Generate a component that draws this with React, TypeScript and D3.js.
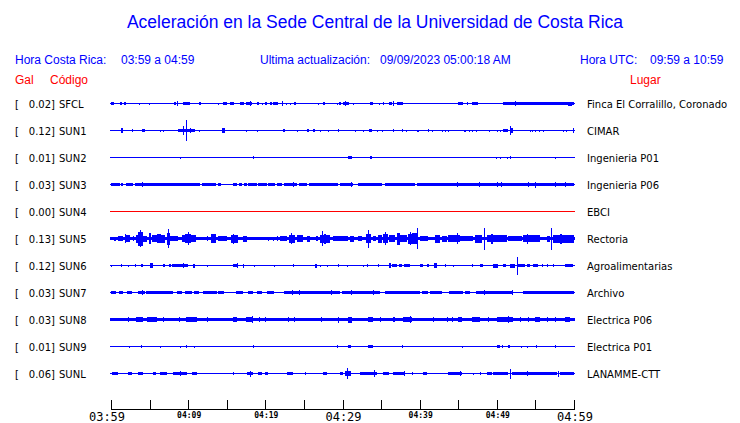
import React from 'react';
import * as d3 from 'd3';

const codes = ['SFCL', 'SUN1', 'SUN2', 'SUN3', 'SUN4', 'SUN5', 'SUN6', 'SUN7', 'SUN8', 'SUN9', 'SUNL'];
const galValues = ['0.02', '0.12', '0.01', '0.03', '0.00', '0.13', '0.12', '0.03', '0.03', '0.01', '0.06'];
const places = ['Finca El Corralillo, Coronado', 'CIMAR', 'Ingenieria P01', 'Ingenieria P06', 'EBCI', 'Rectoria', 'Agroalimentarias', 'Archivo', 'Electrica P06', 'Electrica P01', 'LANAMME-CTT'];
// background noise amplitude of each trace (relative units)
const noiseLevels = [0.7, 0.65, 0.5, 0.6, 0.5, 1.7, 0.6, 0.7, 1.8, 0.5, 0.7];

// bursts: [start minute, end minute, amplitude] (minutes after 03:59)
const evSFCL = [[0,0.4,1.5],[1.2,1.4,1.3],[1.7,1.9,1.3],[3.6,3.75,1.0],[4.9,5.05,1.0],[7.4,7.55,0.9],[8.2,8.4,1.3],[8.55,8.7,2.3],[9.3,10.2,1.5],[11.4,11.7,1.3],[13.9,14.05,1.0],[14.5,15.0,1.3],[15.4,15.9,1.5],[16.7,17.2,1.5],[17.5,18.3,1.6],[18.0,18.15,2.5],[18.9,19.2,1.3],[19.6,19.7,1.0],[20.0,20.2,1.2],[20.6,20.9,1.3],[21.0,21.6,1.5],[22.15,22.3,2.3],[22.7,22.8,1.0],[23.2,23.3,1.0],[23.7,24.0,1.3],[26.8,26.95,1.0],[27.5,27.7,1.2],[29.3,29.4,1.0],[29.5,29.8,1.2],[30.1,30.8,1.6],[30.3,30.45,2.5],[31.4,31.5,1.0],[33.6,33.9,1.4],[34.7,34.85,1.0],[35.2,35.35,1.3],[36.0,36.4,1.4],[36.55,36.7,2.2],[37.1,37.8,1.5],[39.9,40.05,0.9],[42.0,42.15,0.9],[45.0,45.6,1.5],[46.1,46.25,1.2],[46.8,47.5,1.5],[50.8,60,1.6],[52.35,52.5,2.6],[59.2,59.7,2.0]];
const evSUN1 = [[1.3,1.6,2.5],[2.7,2.85,1.2],[4.0,4.4,1.5],[6.3,6.45,1.0],[6.7,6.85,1.0],[8.7,10.9,1.7],[9.35,9.5,4.3],[9.75,9.9,10.8],[10.2,10.35,2.5],[11.4,11.55,1.0],[14.4,14.8,2.2],[17.5,17.65,1.0],[18.9,19.05,1.0],[22.3,22.6,1.5],[24.1,24.25,1.0],[25.4,25.7,1.3],[26.2,26.45,1.5],[27.1,27.25,1.0],[28.1,28.25,1.0],[29.4,29.55,1.3],[31.6,31.75,1.0],[32.7,32.85,1.0],[33.4,33.8,1.5],[34.5,34.65,1.0],[35.1,35.25,1.0],[36.5,36.65,1.3],[37.7,37.85,1.3],[38.2,38.35,1.0],[39.7,39.85,1.0],[41.1,41.25,1.3],[41.6,41.75,1.0],[42.9,43.05,1.0],[43.3,43.45,1.0],[43.7,43.85,1.0],[45.8,45.95,1.0],[46.4,46.55,1.0],[46.8,46.95,1.0],[47.3,47.45,1.0],[49.0,49.15,1.0],[50.0,50.15,1.0],[50.4,50.55,1.0],[50.8,51.4,1.8],[51.65,51.8,4.7],[51.9,52.1,2.5],[54.3,54.45,1.0],[54.6,54.75,1.0],[54.9,55.05,1.0],[55.5,55.65,1.0],[56.0,56.15,1.0],[58.6,58.75,1.0],[58.9,59.05,1.0],[59.85,60,2.8]];
const evSUN2 = [[8.9,9.05,1.0],[18.4,18.55,1.5],[30.7,31.2,1.3],[33.5,33.8,1.3],[49.9,50.05,1.0],[50.4,50.55,1.0],[51.3,51.45,1.0],[51.7,51.85,1.2],[57.5,57.65,1.0]];
const evSUN3 = [[0,1.2,1.6],[1.3,1.6,1.6],[1.9,2.9,1.6],[3.1,8.5,1.6],[8.6,11.5,1.6],[11.8,13.6,1.6],[13.9,14.2,1.6],[15.8,16.3,1.6],[16.6,17.0,1.6],[17.2,17.6,1.6],[17.8,18.9,1.6],[19.1,20.2,1.6],[20.4,21.3,1.6],[21.5,22.2,1.6],[22.4,24.1,1.6],[24.3,25.4,1.6],[25.6,29.4,1.6],[29.7,31.4,1.6],[32.0,35.1,1.6],[35.5,39.4,1.6],[39.7,60,1.8],[4.0,4.15,2.5],[23.6,23.75,2.8],[31.05,31.2,2.6],[44.8,44.95,2.2],[47.7,47.85,2.2],[50.0,50.15,2.5],[50.5,50.65,2.5],[54.0,54.15,2.3],[54.9,55.05,3.0],[57.5,57.65,2.3],[58.8,58.95,2.3]];
const evSUN4: number[][] = [];
const evSUN5 = [[0.4,0.65,2.0],[0.9,1.55,2.2],[1.8,2.45,3.5],[1.85,2.0,4.5],[2.85,3.0,2.5],[3.2,3.5,4.0],[3.5,4.15,7.0],[3.75,3.9,8.7],[4.15,4.65,3.0],[4.9,5.2,5.5],[5.3,5.95,3.5],[5.95,6.5,4.5],[6.5,7.0,4.0],[7.25,7.65,6.0],[7.35,7.45,9.3],[7.65,8.7,2.5],[9.2,11.0,3.5],[9.6,10.4,4.5],[9.95,10.1,6.5],[12.4,12.55,2.2],[13.0,13.6,4.5],[13.9,15.0,2.5],[15.55,16.45,4.0],[15.8,16.0,5.0],[17.1,17.6,3.0],[20.35,20.5,2.0],[21.0,21.15,2.0],[21.5,21.65,2.2],[21.9,22.8,2.5],[23.1,23.85,4.0],[23.3,23.5,5.5],[24.1,24.9,3.5],[25.4,25.8,3.0],[26.6,26.8,2.5],[27.1,28.4,4.0],[27.3,27.45,7.5],[27.6,27.9,5.0],[28.8,29.7,2.5],[29.7,30.7,2.5],[31.0,31.5,3.0],[32.0,32.5,2.5],[33.05,33.7,4.5],[33.3,33.45,9.0],[33.95,34.35,2.5],[34.6,35.1,4.0],[35.25,35.9,4.5],[35.5,35.65,6.5],[36.0,36.8,3.5],[37.05,37.45,6.0],[37.45,38.35,3.5],[38.5,39.0,5.0],[38.7,38.85,6.5],[39.0,39.8,5.5],[39.6,39.75,10.5],[40.0,41.1,2.5],[42.0,42.6,4.0],[42.9,43.55,3.0],[43.65,45.25,3.5],[44.8,44.95,5.5],[45.25,46.9,2.5],[47.15,48.1,4.0],[48.3,48.45,11.0],[48.7,51.3,3.5],[49.3,49.5,5.0],[51.45,53.25,2.5],[53.4,55.6,3.5],[53.9,54.05,5.0],[56.5,56.9,3.0],[57.0,57.15,11.0],[57.3,60,4.0],[58.2,58.4,5.0]];
const evSUN6 = [[0,0.15,1.0],[1.3,1.45,1.2],[2.2,2.35,1.0],[3.1,3.25,1.3],[3.9,4.15,1.5],[5.05,5.45,2.5],[6.75,7.0,1.2],[7.5,7.8,1.3],[7.9,10.0,1.7],[9.3,9.45,2.5],[10.6,10.9,2.0],[12.4,12.55,1.0],[15.8,16.45,1.8],[16.3,16.45,2.5],[17.1,17.25,2.0],[18.5,18.65,1.0],[21.1,21.25,1.0],[23.6,23.75,1.3],[26.4,26.7,2.0],[27.1,27.25,1.0],[28.0,28.15,1.0],[29.4,29.55,1.3],[30.6,30.75,1.0],[32.65,32.8,1.0],[33.2,33.35,1.3],[34.6,34.75,1.3],[36.0,36.3,2.7],[36.4,37.05,1.7],[37.3,37.7,1.5],[37.95,38.75,1.5],[40.0,40.45,1.5],[40.9,41.2,1.3],[41.85,42.25,2.3],[43.3,43.45,1.2],[44.3,44.45,1.0],[46.8,46.95,1.2],[47.8,48.2,1.7],[49.5,50.15,2.0],[50.8,51.2,1.5],[51.7,52.35,2.0],[52.6,52.75,9.0],[52.75,53.65,1.7],[53.9,54.3,1.3],[54.7,55.35,1.7],[55.85,56.0,1.3],[56.5,56.65,1.2],[57.3,57.45,1.2],[58.8,59.9,1.3]];
const evSUN7 = [[0,0.65,1.3],[1.05,1.55,1.5],[2.05,2.7,1.5],[3.5,4.4,1.7],[4.0,4.15,2.5],[4.55,8.05,1.6],[8.55,9.2,1.8],[9.6,10.5,1.3],[10.75,11.4,1.5],[11.9,13.75,1.3],[13.85,14.65,1.5],[16.2,17.1,1.8],[17.75,18.4,1.3],[18.9,19.55,1.6],[20.2,21.1,1.8],[22.4,29.7,1.6],[23.45,23.6,2.3],[24.35,24.5,2.3],[28.5,28.65,2.3],[29.95,34.85,1.5],[31.1,31.25,2.3],[33.95,34.1,2.3],[35.5,40.05,1.5],[40.3,41.1,1.4],[41.35,42.9,1.5],[43.8,45.6,1.5],[45.9,46.5,1.3],[47.3,52.1,1.6],[48.3,48.45,2.2],[51.95,52.1,2.2],[53.4,60,1.6]];
const evSUN8 = [[2.2,2.35,2.5],[3.25,4.15,2.5],[4.65,5.95,2.5],[6.75,6.9,2.3],[8.8,8.95,2.3],[9.7,11.15,2.5],[12.4,12.55,2.3],[15.8,16.35,2.7],[17.5,18.4,2.8],[18.25,18.4,3.2],[19.2,19.35,2.3],[19.95,20.1,2.3],[22.9,23.05,2.2],[23.7,23.85,2.2],[27.2,27.35,2.5],[29.4,29.55,3.0],[30.7,31.25,3.0],[33.3,33.95,2.8],[34.85,35.0,2.3],[36.55,36.8,2.7],[37.85,39.0,2.8],[38.75,38.9,3.2],[41.75,41.9,2.7],[43.55,43.7,2.3],[44.2,44.35,2.5],[44.95,45.5,2.8],[46.8,47.8,2.5],[48.85,49.0,2.3],[50.0,52.1,2.8],[51.45,51.6,3.2],[53.0,53.15,2.3],[54.05,54.2,2.5],[55.0,55.6,2.8],[56.5,56.65,2.5],[57.5,57.65,2.5],[58.8,59.5,2.6]];
const evSUN9 = [[2.3,2.45,1.0],[3.9,4.05,1.3],[6.35,6.5,1.0],[8.9,9.05,1.0],[9.7,9.85,1.3],[10.75,10.9,1.0],[18.4,18.55,1.8],[29.3,29.45,1.3],[30.7,31.1,1.5],[33.3,33.95,1.5],[37.7,37.85,1.2],[43.55,43.7,0.8],[45.5,45.65,1.0],[50.0,50.4,1.5],[50.65,50.8,1.2],[51.45,51.7,1.5],[53.1,53.25,1.0],[53.9,54.05,1.0],[55.05,55.2,1.3],[55.7,55.85,0.8],[57.5,57.65,1.5]];
const evSUNL = [[0.1,0.9,1.3],[2.2,2.7,1.3],[3.5,4.15,1.3],[5.45,5.85,1.3],[6.35,7.25,1.3],[8.05,9.85,1.5],[8.9,9.05,2.8],[10.5,11.15,1.5],[15.8,15.95,1.2],[17.6,18.4,1.5],[18.0,18.15,3.0],[19.05,19.55,1.3],[19.95,20.35,1.3],[22.8,23.6,1.3],[25.1,25.25,1.2],[27.5,28.0,1.3],[29.7,30.1,1.3],[30.3,31.1,2.5],[30.55,30.7,5.5],[32.25,34.45,1.6],[34.05,34.2,3.5],[35.25,36.0,1.3],[36.55,38.1,1.5],[37.95,38.1,2.2],[39.0,39.15,1.2],[40.45,40.95,1.2],[43.65,45.5,1.5],[45.2,45.35,2.2],[46.95,47.1,1.0],[47.8,47.95,1.2],[48.7,49.35,1.3],[49.5,51.45,1.8],[51.7,51.85,5.0],[51.95,53.9,1.8],[53.9,54.05,2.8],[54.05,57.8,1.6],[57.9,58.05,3.0],[58.2,60,1.6]];

const events = [evSFCL, evSUN1, evSUN2, evSUN3, evSUN4, evSUN5, evSUN6, evSUN7, evSUN8, evSUN9, evSUNL];

const tickMinutes = [0, 5, 10, 15, 20, 25, 30, 35, 40, 45, 50, 55, 60];
const majorLabels: [number, string][] = [[0, '03:59'], [30, '04:29'], [60, '04:59']];
const minorLabels: [number, string][] = [[10, '04:09'], [20, '04:19'], [40, '04:39'], [50, '04:49']];

const title = 'Aceleración en la Sede Central de la Universidad de Costa Rica';
const horaCR = '03:59 a 04:59';
const actualizacion = '09/09/2023 05:00:18 AM';
const horaUTC = '09:59 a 10:59';

const W = 740, H = 423;
const BLUE = '#0000ff';
const RED = '#ff0000';

export default function App() {
  const x = d3.scaleLinear().domain([0, 60]).range([111, 574]);
  const row = d3.scalePoint<string>().domain(codes).range([103.5, 373.5]);
  const amp = d3.scaleLinear().domain([0, 10]).range([0, 10]);

  const tracePath = (i: number) => {
    const p = d3.path();
    const yc = row(codes[i])!;
    const b = amp(noiseLevels[i]);
    p.rect(x(0) - 1, yc - b, x(60) - x(0) + 2, 2 * b);
    for (const [t0, t1, a] of events[i]) {
      const x0 = x(t0);
      const w = Math.max(1, x(t1) - x0);
      const h = amp(a);
      p.rect(x0, yc - h, w, 2 * h);
    }
    return p.toString();
  };

  const sans = 'Liberation Sans, Arial, Helvetica, sans-serif';
  const dv = 'DejaVu Sans, sans-serif';
  const mono = 'DejaVu Sans Mono, monospace';

  return (
    <svg width={W} height={H} style={{ position: 'absolute', left: 0, top: 0, background: '#fff' }}>
      <rect width={W} height={H} fill="#fff" />
      <text x={375} y={28} textAnchor="middle" fontFamily={sans} fontSize={17.5} fill={BLUE}>{title}</text>

      <g fontFamily={sans} fontSize={12} fill={BLUE}>
        <text x={15} y={64}>Hora Costa Rica:</text>
        <text x={121} y={64}>{horaCR}</text>
        <text x={260} y={64}>Ultima actualización:</text>
        <text x={380} y={64}>{actualizacion}</text>
        <text x={580} y={64}>Hora UTC:</text>
        <text x={650} y={64}>{horaUTC}</text>
      </g>
      <g fontFamily={sans} fontSize={12} fill={RED}>
        <text x={15} y={84}>Gal</text>
        <text x={50} y={84}>Código</text>
        <text x={630} y={84}>Lugar</text>
      </g>

      <g fontFamily={dv} fontSize={10} fill="#000">
        {codes.map((c, i) => {
          const y = row(c)! + 4;
          return (
            <g key={c}>
              <text x={15} y={y}>[</text>
              <text x={55} y={y} textAnchor="end">{galValues[i] + ']'}</text>
              <text x={59} y={y}>{c}</text>
              <text x={587} y={y}>{places[i]}</text>
            </g>
          );
        })}
      </g>

      <g shapeRendering="crispEdges">
        {codes.map((c, i) => (
          <path key={c} d={tracePath(i)} fill={c === 'SUN4' ? RED : BLUE} />
        ))}
      </g>

      <g shapeRendering="crispEdges" stroke="#000" strokeWidth={1}>
        <line x1={x(0)} x2={x(60)} y1={409.5} y2={409.5} />
        {tickMinutes.map((m) => (
          <line key={m} x1={Math.round(x(m)) + 0.5} x2={Math.round(x(m)) + 0.5} y1={400} y2={409.5} />
        ))}
      </g>
      <g fontFamily={mono} fill="#000">
        {majorLabels.map(([m, s], k) => (
          <text key={s} x={x(m) + (k === 0 ? -4 : 1)} y={421} fontSize={12} textAnchor="middle">{s}</text>
        ))}
        {minorLabels.map(([m, s]) => (
          <text key={s} x={x(m) + 1} y={418} fontSize={8} fontWeight="bold" textAnchor="middle">{s}</text>
        ))}
      </g>
    </svg>
  );
}
